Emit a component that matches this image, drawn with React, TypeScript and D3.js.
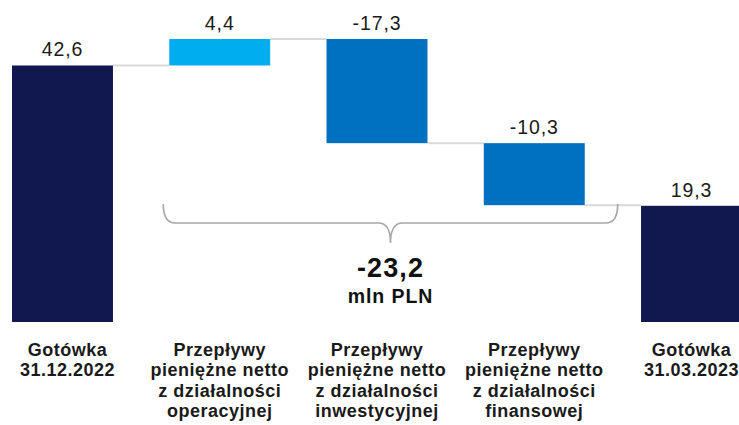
import React from "react";
import * as d3 from "d3";

const categories: string[][] = [
  ["Gotówka", "31.12.2022"],
  ["Przepływy", "pieniężne netto", "z działalności", "operacyjnej"],
  ["Przepływy", "pieniężne netto", "z działalności", "inwestycyjnej"],
  ["Przepływy", "pieniężne netto", "z działalności", "finansowej"],
  ["Gotówka", "31.03.2023"],
];
const values = [42.6, 4.4, -17.3, -10.3, 19.3];
const kinds = ["total", "delta", "delta", "delta", "total"];
const valueLabels = ["42,6", "4,4", "-17,3", "-10,3", "19,3"];
const totalLabel = "-23,2";
const unitLabel = "mln PLN";

const W = 739;
const H = 425;
const FONT = "'Liberation Sans', Arial, Helvetica, sans-serif";
const NAVY = "#11184f";
const LIGHT = "#00adee";
const MID = "#0070c0";

export default function App() {
  let run = 0;
  const segs = values.map((v, i) => {
    let start: number, end: number;
    if (kinds[i] === "total") {
      start = 0;
      end = v;
      run = v;
    } else {
      start = run;
      end = run + v;
      run = end;
    }
    return { i, v, start, end, kind: kinds[i] };
  });
  const maxV = d3.max(segs, (s) => Math.max(s.start, s.end)) as number;

  const x = d3
    .scaleBand<number>()
    .domain(values.map((_, i) => i))
    .range([12, 742])
    .paddingInner(0.358)
    .paddingOuter(0);
  const y = d3.scaleLinear().domain([0, maxV]).range([322, 39]);
  const bw = x.bandwidth();

  const color = (s: any) =>
    s.kind === "total" ? NAVY : s.v >= 0 ? LIGHT : MID;

  const connectors = segs.slice(0, -1).map((s, k) => {
    const next = segs[k + 1];
    return {
      x1: (x(s.i) as number) + bw,
      x2: x(next.i) as number,
      y: y(s.end),
    };
  });

  const deltaSum = d3.sum(segs.filter((s) => s.kind === "delta"), (s) => s.v);
  const bL = (x(1) as number) - 6;
  const bR = (x(3) as number) + bw + 33;
  const bTop = 204;
  const bBot = 223;
  const bMid = (bL + bR) / 2;
  const r = 12;
  const bracePath = `M${bL},${bTop} Q${bL},${bBot} ${bL + r},${bBot} L${bMid - r},${bBot} Q${bMid},${bBot} ${bMid},${bBot + 20} Q${bMid},${bBot} ${bMid + r},${bBot} L${bR - r},${bBot} Q${bR},${bBot} ${bR},${bTop}`;

  const labelX = (i: number) => (x(i) as number) + bw / 2 + (i === 0 ? 5 : 0);

  return (
    <svg
      width={W}
      height={H}
      style={{ position: "absolute", left: 0, top: 0, background: "#fff" }}
      fontFamily={FONT}
    >
      {connectors.map((c, k) => (
        <line
          key={"c" + k}
          x1={c.x1}
          x2={c.x2}
          y1={c.y}
          y2={c.y}
          stroke="#d9d9d9"
          strokeWidth={2}
        />
      ))}
      {segs.map((s) => (
        <rect
          key={"b" + s.i}
          x={x(s.i)}
          y={y(Math.max(s.start, s.end))}
          width={bw}
          height={Math.abs(y(s.start) - y(s.end))}
          fill={color(s)}
        />
      ))}
      {segs.map((s) => (
        <text
          key={"v" + s.i}
          x={(x(s.i) as number) + bw / 2}
          y={y(Math.max(s.start, s.end)) - 9}
          textAnchor="middle"
          fontSize={19.5}
          letterSpacing={0.9}
          fill="#1a1a1a"
        >
          {valueLabels[s.i]}
        </text>
      ))}
      <path d={bracePath} fill="none" stroke="#a6a6a6" strokeWidth={1.6} />
      <text
        x={bMid}
        y={277}
        textAnchor="middle"
        fontSize={27}
        fontWeight="bold"
        letterSpacing={1.1}
        fill="#111"
      >
        {totalLabel || d3.format(".1f")(deltaSum).replace(".", ",")}
      </text>
      <text
        x={bMid}
        y={303}
        textAnchor="middle"
        fontSize={19.5}
        fontWeight="bold"
        letterSpacing={0.9}
        fill="#111"
      >
        {unitLabel}
      </text>
      {categories.map((lines, i) => (
        <text
          key={"l" + i}
          x={labelX(i)}
          y={356}
          textAnchor="middle"
          fontSize={18}
          fontWeight="bold"
          letterSpacing={0.5}
          fill="#1a1a1a"
        >
          {lines.map((ln, j) => (
            <tspan key={j} x={labelX(i)} dy={j === 0 ? 0 : 20.3}>
              {ln}
            </tspan>
          ))}
        </text>
      ))}
    </svg>
  );
}
